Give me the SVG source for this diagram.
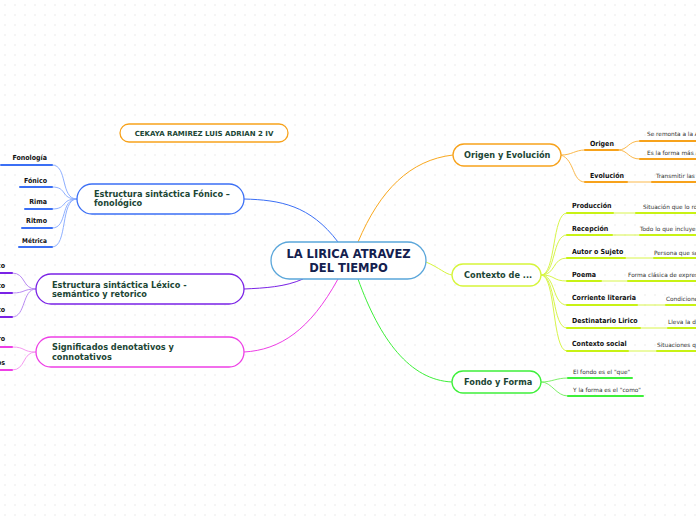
<svg xmlns="http://www.w3.org/2000/svg" width="696" height="520" viewBox="0 0 696 520">
<defs>
<pattern id="dots" width="10" height="10" patternUnits="userSpaceOnUse"><circle cx="5" cy="5" r="0.8" fill="#e8e8e8"/></pattern>
<style>
.n{fill:#fff;stroke-width:1.3}
.t{font-family:"DejaVu Sans",sans-serif;font-weight:bold;fill:#1b4634;font-size:8.2px}
.c{font-family:"DejaVu Sans",sans-serif;font-weight:bold;fill:#13204e;font-size:11.5px}
.s{font-family:"DejaVu Sans Condensed","DejaVu Sans",sans-serif;font-weight:bold;fill:#111;font-size:7px}
.l{font-family:"DejaVu Sans",sans-serif;fill:#333;font-size:5.8px}
.e{fill:none;stroke-width:1}
.u{fill:none;stroke-width:2;stroke-linecap:round}
</style>
</defs>
<rect width="696" height="520" fill="#fff"/>
<rect width="696" height="520" fill="url(#dots)"/>
<g id="connectors">
<path class="e" stroke="#f9a81e" d="M358,242 C380,190 410,160 453,155"/>
<path class="e" stroke="#d6f53a" d="M426,262 C440,268 445,274 452,275"/>
<path class="e" stroke="#3ef03a" d="M358,279 C380,340 410,380 452,382"/>
<path class="e" stroke="#3b6ff5" d="M338,242 C310,205 280,200 244,199"/>
<path class="e" stroke="#7a22e6" d="M303,279 C285,287 265,288 244,289"/>
<path class="e" stroke="#ee3fe6" d="M338,279 C310,330 280,350 244,352"/>
<g stroke="#fbb84a" class="e">
<path d="M561,155 C572,155 575,150 585,150"/>
<path d="M561,155 C575,160 572,182 585,182"/>
<path d="M618,150 C628,150 628,141 640,141"/>
<path d="M618,150 C628,150 628,159 640,159"/>
<path d="M627,182 L652,182"/>
</g>
<g stroke="#d8f54a" class="e">
<path d="M541,275 C556,275 552,213 567,213"/>
<path d="M541,275 C556,275 552,235 567,235"/>
<path d="M541,275 C556,275 552,258 567,258"/>
<path d="M541,275 C556,275 552,281 567,281"/>
<path d="M541,275 C556,275 552,305 567,305"/>
<path d="M541,275 C556,275 552,328 567,328"/>
<path d="M541,275 C556,275 552,351 567,351"/>
<path d="M613,213 L636,213"/><path d="M612,235 L640,235"/><path d="M625,258 L654,258"/><path d="M601,281 L628,281"/><path d="M637,305 L666,305"/><path d="M640,328 L668,328"/><path d="M628,351 L657,351"/>
</g>
<g stroke="#7ef06a" class="e">
<path d="M541,382 C552,382 556,378 568,378"/>
<path d="M541,382 C552,382 556,396 568,396"/>
</g>
<g stroke="#8fb0ff" class="e">
<path d="M77,199 C60,199 68,165 52,165"/>
<path d="M77,199 C60,199 68,187 52,187"/>
<path d="M77,199 C60,199 68,209 52,209"/>
<path d="M77,199 C60,199 68,228 52,228"/>
<path d="M77,199 C60,199 68,247 52,247"/>
</g>
<g stroke="#b98af2" class="e">
<path d="M36,289 C22,289 26,273 12,273"/>
<path d="M36,289 C22,289 26,293 12,293"/>
<path d="M36,289 C22,289 26,317 12,317"/>
</g>
<g stroke="#f59af0" class="e">
<path d="M36,352 C22,352 26,347 12,347"/>
<path d="M36,352 C22,352 26,370 12,370"/>
</g>
</g>
<g id="center">
<rect class="n" x="271" y="242" width="155" height="37" rx="18.5" stroke="#5aa6da"/>
<text class="c" x="348.5" y="258" text-anchor="middle">LA LIRICA ATRAVEZ</text>
<text class="c" x="348.5" y="272" text-anchor="middle">DEL TIEMPO</text>
</g>
<g id="cekaya">
<rect class="n" x="120" y="124" width="168" height="18" rx="9" stroke="#f7a21b"/>
<text class="t" x="204" y="136" text-anchor="middle" style="font-size:7px">CEKAYA RAMIREZ LUIS ADRIAN 2 IV</text>
</g>
<g id="fonico">
<rect class="n" x="77" y="184" width="167" height="30" rx="15" stroke="#3b6ff5"/>
<text class="t" x="94" y="197">Estructura sintáctica Fónico –</text>
<text class="t" x="94" y="206">fonológico</text>
</g>
<g id="fonico-leaves">
<path class="u" stroke="#3b6ff5" d="M1,165 H52 M20,187 H52 M25,209 H52 M22,228 H52 M19,247 H52"/>
<text class="s" x="47" y="160" text-anchor="end">Fonología</text>
<text class="s" x="47" y="183" text-anchor="end">Fónico</text>
<text class="s" x="47" y="204" text-anchor="end">Rima</text>
<text class="s" x="47" y="223" text-anchor="end">Ritmo</text>
<text class="s" x="47" y="243" text-anchor="end" style="font-size:6.5px">Métrica</text>
</g>
<g id="lexico">
<rect class="n" x="36" y="274" width="208" height="30" rx="15" stroke="#7a22e6"/>
<text class="t" x="52" y="288">Estructura sintáctica Léxico -</text>
<text class="t" x="52" y="297">semántico y retorico</text>
</g>
<g id="lexico-leaves">
<path class="u" stroke="#7a22e6" d="M0,273 H12 M0,293 H12 M0,317 H12"/>
<text class="s" x="5" y="268" text-anchor="end">co</text>
<text class="s" x="5" y="288" text-anchor="end">to</text>
<text class="s" x="5" y="312" text-anchor="end">to</text>
</g>
<g id="significados">
<rect class="n" x="36" y="337" width="208" height="30" rx="15" stroke="#ee3fe6"/>
<text class="t" x="52" y="350">Significados denotativos y</text>
<text class="t" x="52" y="360">connotativos</text>
</g>
<g id="significados-leaves">
<path class="u" stroke="#ee3fe6" d="M0,347 H12 M0,370 H12"/>
<text class="s" x="5" y="341" text-anchor="end">ro</text>
<text class="s" x="5" y="365" text-anchor="end">os</text>
</g>
<g id="origen">
<rect class="n" x="453" y="144" width="108" height="22" rx="11" stroke="#f7a21b"/>
<text class="t" x="464" y="158">Origen y Evolución</text>
</g>
<g id="origen-leaves">
<path class="u" stroke="#f7a21b" d="M585,150 H618 M585,182 H627 M640,141 H696 M640,159 H696 M652,182 H696"/>
<text class="s" x="590" y="146">Origen</text>
<text class="s" x="590" y="178">Evolución</text>
<text class="l" x="647" y="136">Se remonta a la A</text>
<text class="l" x="647" y="155">Es la forma más a</text>
<text class="l" x="656" y="178">Transmitir las</text>
</g>
<g id="contexto">
<rect class="n" x="452" y="264" width="89" height="22" rx="11" stroke="#d6f53a"/>
<text class="t" x="464" y="278">Contexto de ...</text>
</g>
<g id="contexto-leaves">
<path class="u" stroke="#c8f214" d="M567,213 H613 M567,235 H612 M567,258 H625 M567,281 H601 M567,305 H637 M567,328 H640 M567,351 H628 M636,213 H696 M640,235 H696 M654,258 H696 M628,281 H696 M666,305 H696 M668,328 H696 M657,351 H696"/>
<text class="s" x="572" y="208">Producción</text>
<text class="s" x="572" y="231">Recepción</text>
<text class="s" x="572" y="254">Autor o Sujeto</text>
<text class="s" x="572" y="277">Poema</text>
<text class="s" x="572" y="300">Corriente literaria</text>
<text class="s" x="572" y="323">Destinatario Lirico</text>
<text class="s" x="572" y="346">Contexto social</text>
<text class="l" x="643" y="209">Situación que lo ro</text>
<text class="l" x="640" y="231">Todo lo que incluye e</text>
<text class="l" x="654" y="255">Persona que se</text>
<text class="l" x="628" y="277">Forma clásica de expresa</text>
<text class="l" x="666" y="301">Condicione</text>
<text class="l" x="668" y="324">Lleva la di</text>
<text class="l" x="657" y="347">Situaciones q</text>
</g>
<g id="fondo">
<rect class="n" x="452" y="371" width="89" height="22" rx="11" stroke="#3ef03a"/>
<text class="t" x="464" y="385">Fondo y Forma</text>
</g>
<g id="fondo-leaves">
<path class="u" stroke="#3ef03a" d="M568,378 H632 M568,396 H643"/>
<text class="l" x="573" y="374">El fondo es el "que"</text>
<text class="l" x="573" y="392">Y la forma es el "como"</text>
</g>
</svg>
